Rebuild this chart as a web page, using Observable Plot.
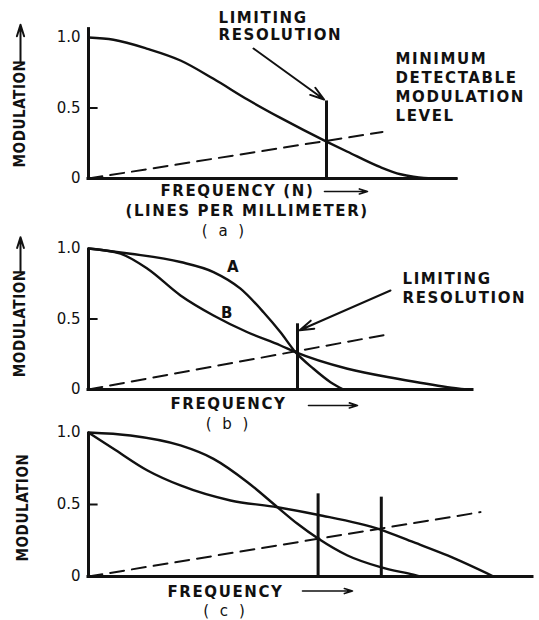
<!DOCTYPE html>
<html><head><meta charset="utf-8">
<script src="https://cdn.jsdelivr.net/npm/d3@7"></script>
<script src="https://cdn.jsdelivr.net/npm/@observablehq/plot@0.6"></script>
<style>
body{margin:0;background:#fff;}
#chart{position:relative;width:539px;height:620px;overflow:hidden;background:#fff;}
#chart svg{position:absolute;left:0;overflow:visible;}
.lbl text{letter-spacing:1.6px;}
.cap text{letter-spacing:3px;}
.ylbl text{font-stretch:condensed;letter-spacing:0.6px;}
</style></head><body><div id="chart"></div>
<script>
// ---- shared ticks ----
const yTicks = [0, 0.5, 1.0];
const yTickLabels = ["0", "0.5", "1.0"];

// ---- panel (a) ----
const freqA = [0, 6.25, 14.75, 23, 31.25, 39.75, 48, 59.5, 64.75, 73, 78, 81.25, 86, 92];
const modA  = [1.0, 0.984, 0.92, 0.837, 0.707, 0.56, 0.43, 0.262, 0.19, 0.08, 0.03, 0.012, 0.0, 0.0];
const limitA = [59.5];          // limiting resolution frequency
const limitTopA = [0.55];
const thresholdA = {f: [0, 73.5], m: [0, 0.33]};  // minimum detectable modulation
const axisEndA = 92;

// ---- panel (b) ----
const freqB_A = [0, 10.5, 23, 31.25, 38, 43.75, 48, 51.75, 56.25, 60.5, 63.75];
const modB_A  = [1.0, 0.963, 0.904, 0.833, 0.715, 0.548, 0.406, 0.265, 0.147, 0.052, 0];
const freqB_B = [0, 8, 14.75, 23, 31.25, 39.75, 48, 51.75, 64.75, 77.25, 89.75, 94.75];
const modB_B  = [1.0, 0.963, 0.856, 0.667, 0.525, 0.406, 0.312, 0.265, 0.147, 0.076, 0.017, 0];
const limitB = [52.25];
const limitTopB = [0.466];
const thresholdB = {f: [0, 74.25], m: [0, 0.388]};
const axisEndB = 96;

// ---- panel (c) ----
const freqC1 = [0, 10.5, 23, 31.25, 39.75, 47.25, 52.25, 57.5, 64.75, 73, 81.25, 83];
const modC1  = [1.0, 0.979, 0.91, 0.817, 0.655, 0.481, 0.366, 0.262, 0.146, 0.065, 0.012, 0];
const freqC2 = [0, 6.25, 14.75, 23, 35.5, 47.25, 57.25, 73, 81.25, 89.75, 101.25];
const modC2  = [1.0, 0.887, 0.736, 0.632, 0.528, 0.481, 0.429, 0.326, 0.238, 0.146, 0];
const limitC = [57.4, 73.2];
const limitTopC = [0.574, 0.551];
const thresholdC = {f: [0, 98], m: [0, 0.447]};
const axisEndC = 111;

const chart = document.getElementById("chart");
const FONT = "DejaVu Sans";

function frame(axisEnd, axisTop) {
  return [
    Plot.axisY({ticks: yTicks, tickFormat: (d) => yTickLabels[yTicks.indexOf(d)], tickSize: 0, tickPadding: 8, fontSize: 15, label: null}),
    Plot.ruleY([0.5], {x1: 0, x2: 2.4, strokeWidth: 2}),
    Plot.ruleX([0], {y1: 0, y2: axisTop, strokeWidth: 3}),
    Plot.ruleY([0], {x1: 0, x2: axisEnd, strokeWidth: 3, strokeLinecap: "square"})
  ];
}
function curve(f, m) {
  return Plot.line(m, {x: f, y: m, curve: "monotone-x", strokeWidth: 2.4, strokeLinecap: "round"});
}
function dashed(t) {
  return Plot.line(t.m, {x: t.f, y: t.m, strokeWidth: 2, strokeDasharray: "14,8"});
}
function limits(f, top) {
  return Plot.ruleX(f, {x: f, y1: 0, y2: top, strokeWidth: 3});
}
function label(text, x, y, opts = {}) {
  return Plot.text([text], {x, y, text: (d) => d, textAnchor: "start", fontSize: 15, fontWeight: "bold", className: "lbl", ...opts});
}
function ylabel(text, x, y) {
  return Plot.text([text], {x, y, text: (d) => d, rotate: -90, fontSize: 15, fontWeight: "bold", fontFamily: "DejaVu Sans Condensed, DejaVu Sans", className: "ylbl"});
}
function arrow(x1, y1, x2, y2, o = {}) {
  return Plot.arrow([0], {x1, y1, x2, y2, strokeWidth: 2, headLength: 11, headAngle: 35, ...o});
}
function panel(top, height, mt, mb, marks) {
  const svg = Plot.plot({
    width: 539, height, marginLeft: 88, marginRight: 3, marginTop: mt, marginBottom: mb,
    x: {domain: [0, 112], axis: null},
    y: {domain: [0, 1]},
    style: {fontFamily: FONT, fontSize: "15px", background: "transparent", color: "#111", overflow: "visible"},
    marks
  });
  svg.style.top = top + "px";
  chart.append(svg);
}
const small = {strokeWidth: 1.6, headLength: 8, headAngle: 35};

// (a)
panel(0, 215, 37, 37, [
  ...frame(axisEndA, 1.07),
  dashed(thresholdA),
  curve(freqA, modA),
  limits(limitA, limitTopA),
  label("LIMITING", 32.5, 1.135),
  label("RESOLUTION", 32.5, 1.015),
  arrow(41.25, 0.922, 58.9, 0.56),
  label("MINIMUM", 76.75, 0.844),
  label("DETECTABLE", 76.75, 0.709),
  label("MODULATION", 76.75, 0.574),
  label("LEVEL", 76.75, 0.44),
  label("FREQUENCY (N)", 18, -0.089),
  arrow(59, -0.092, 69.75, -0.092, small),
  label("(LINES PER MILLIMETER)", 9.25, -0.234),
  label("( a )", 34, -0.376, {textAnchor: "middle", fontWeight: "normal", className: "cap"}),
  ylabel("MODULATION", -17, 0.461),
  arrow(-17, 0.83, -17, 1.09, {strokeWidth: 2, headLength: 9, headAngle: 35})
]);

// (b)
panel(215, 195, 33, 21, [
  ...frame(axisEndB, 1.0),
  dashed(thresholdB),
  curve(freqB_A, modB_A),
  curve(freqB_B, modB_B),
  limits(limitB, limitTopB),
  label("A", 36.25, 0.865, {textAnchor: "middle"}),
  label("B", 34.75, 0.539, {textAnchor: "middle"}),
  label("LIMITING", 78.5, 0.784),
  label("RESOLUTION", 78.5, 0.649),
  arrow(75.5, 0.702, 52.8, 0.42),
  label("FREQUENCY", 20.5, -0.106),
  arrow(55, -0.113, 67.25, -0.113, small),
  label("( b )", 35, -0.248, {textAnchor: "middle", fontWeight: "normal", className: "cap"}),
  ylabel("MODULATION", -17, 0.47),
  arrow(-17, 0.84, -17, 1.08, {strokeWidth: 2, headLength: 9, headAngle: 35})
]);

// (c)
panel(410, 210, 22, 44, [
  ...frame(axisEndC, 1.0),
  dashed(thresholdC),
  curve(freqC1, modC1),
  curve(freqC2, modC2),
  limits(limitC, limitTopC),
  label("FREQUENCY", 19.75, -0.108),
  arrow(53.5, -0.101, 66, -0.101, small),
  label("( c )", 34.25, -0.24, {textAnchor: "middle", fontWeight: "normal", className: "cap"}),
  ylabel("MODULATION", -16.25, 0.479)
]);
</script></body></html>
